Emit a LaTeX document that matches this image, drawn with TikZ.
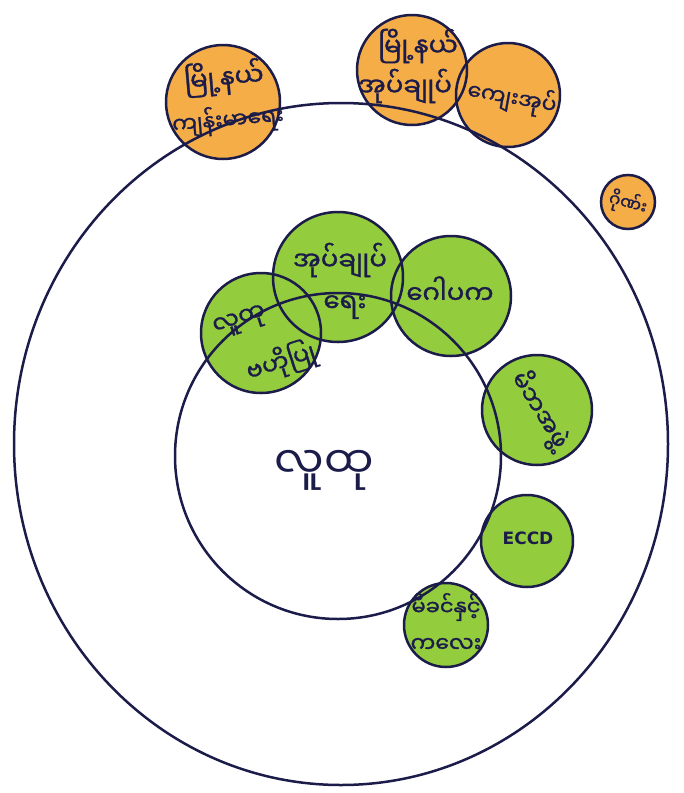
\documentclass[tikz,border=0pt]{standalone}
\usepackage{fontspec}
\usetikzlibrary{shapes.geometric}
\newfontfamily\my[Script=Myanmar, FakeBold=1.2]{Noto Sans Myanmar UI}
\newfontfamily\mythin[Script=Myanmar]{Noto Sans Myanmar UI}
\newfontfamily\lat{DejaVu Sans}
\definecolor{ora}{HTML}{F5AD47}
\definecolor{gre}{HTML}{93CD3E}
\definecolor{ink}{HTML}{1C1C4A}
\begin{document}
\begin{tikzpicture}[x=1pt,y=-1pt,
  dot/.style={circle, inner sep=0pt, minimum size=#1},
  ofill/.style={dot=#1, fill=ora},
  gfill/.style={dot=#1, fill=gre},
  rim/.style={draw=ink, line width=2.5pt},
  lbl/.style={text=ink, font=\my\fontsize{#1}{#1}\selectfont, inner sep=0pt},
]
\useasboundingbox[fill=white] (0,0) rectangle (684,793);
% fills
\node[ofill=114pt] (o1) at (223,102) {};
\node[ofill=110pt] (o2) at (412,70) {};
\node[ofill=104pt] (o3) at (508,95) {};
\node[ofill=54pt] (o4) at (628,202) {};
\node[gfill=130pt] (g1) at (338,277) {};
\node[gfill=120pt] (g2) at (261,333) {};
\node[gfill=120pt] (g3) at (451,296) {};
\node[gfill=110pt] (g4) at (537,410) {};
\node[gfill=92pt] (g5) at (527,541) {};
\node[gfill=84pt] (g6) at (446,625) {};
% big rings
\node[draw=ink, line width=2.5pt, ellipse, inner sep=0pt, minimum width=654pt, minimum height=682pt] (outer) at (341,444) {};
\node[draw=ink, line width=2.5pt, circle, inner sep=0pt, minimum size=326pt] (inner) at (338,456) {};
% rims
\draw[rim] (o1.center) circle[radius=57pt];
\draw[rim] (o2.center) circle[radius=55pt];
\draw[rim] (o3.center) circle[radius=52pt];
\draw[rim] (o4.center) circle[radius=27pt];
\draw[rim] (g1.center) circle[radius=65pt];
\draw[rim] (g2.center) circle[radius=60pt];
\draw[rim] (g3.center) circle[radius=60pt];
\draw[rim] (g4.center) circle[radius=55pt];
\draw[rim] (g5.center) circle[radius=46pt];
\draw[rim] (g6.center) circle[radius=42pt];
% labels
\node[lbl=26, rotate=5] (t1a) at (224,78) {မြို့နယ်};
\node[lbl=22, rotate=5] (t1b) at (228,120) {ကျန်းမာရေး};
\node[lbl=26] (t2a) at (418,46) {မြို့နယ်};
\node[lbl=26] (t2b) at (405,86) {အုပ်ချုပ်};
\node[lbl=22, rotate=-10] (t3) at (512,98) {ကျေးအုပ်};
\node[lbl=17, rotate=-15] (t4) at (628,203) {ဂိုဏ်း};
\node[lbl=26] (t5a) at (340,260) {အုပ်ချုပ်};
\node[lbl=26] (t5b) at (345,307) {ရေး};
\node[lbl=24, rotate=18] (t6a) at (240,322) {လူထု};
\node[lbl=24, rotate=18] (t6b) at (281,362) {ဗဟိုပြု};
\node[lbl=26] (t7) at (450,290) {ဂေါပက};
\node[lbl=24, rotate=-58] (t8) at (540,410) {မိဘအဖွဲ့};
\node[text=ink, font=\lat\bfseries\fontsize{17}{17}\selectfont, inner sep=0pt] (t9) at (528,538) {ECCD};
\node[lbl=21] (t10a) at (446,607) {မိခင်နှင့်};
\node[lbl=22] (t10b) at (446,645) {ကလေး};
\node[text=ink, font=\mythin\fontsize{44}{44}\selectfont, inner sep=0pt] (t11) at (324,470) {လူထု};
\end{tikzpicture}
\end{document}
